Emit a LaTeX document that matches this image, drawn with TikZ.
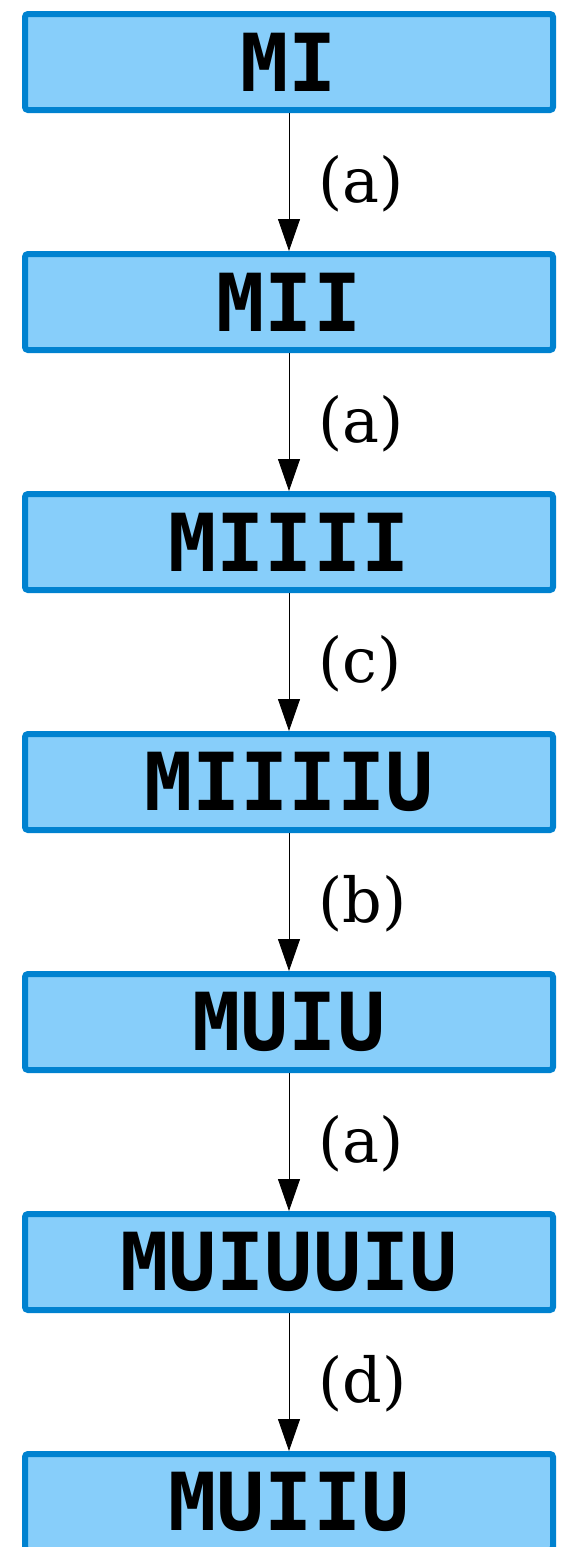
\documentclass[tikz,border=0pt]{standalone}
\usepackage{fontspec}
\usetikzlibrary{arrows.meta}
\newfontfamily\boxfont{DejaVu Sans Mono}
\newfontfamily\labfont{DejaVu Serif}
\definecolor{boxfill}{RGB}{135,206,250}
\definecolor{boxline}{RGB}{0,130,208}
\begin{document}
\begin{tikzpicture}[x=1pt,y=-1pt,
  mbox/.style={rectangle, draw=boxline, fill=boxfill, line width=6pt, rounded corners=3pt,
    minimum width=528pt, minimum height=96pt, inner sep=0pt,
    font=\boxfont\bfseries\fontsize{80}{88}\selectfont, text=black},
  link/.style={draw=black, line width=0.9pt, -{Triangle[length=32pt,width=22pt]}},
  lab/.style={inner sep=0pt, anchor=west, xshift=29pt, yshift=-2pt, font=\labfont\fontsize{62}{70}\selectfont}]
\useasboundingbox (0,0) rectangle (562,1547);
\clip (0,0) rectangle (562,1547);
\node[mbox] (n1) at (289,62) {MI};
\node[mbox] (n2) at (289,302) {MII};
\node[mbox] (n3) at (289,542) {MIIII};
\node[mbox] (n4) at (289,782) {MIIIIU};
\node[mbox] (n5) at (289,1022) {MUIU};
\node[mbox] (n6) at (289,1262) {MUIUUIU};
\node[mbox] (n7) at (289,1502) {MUIIU};
\draw[link] (n1) -- node[lab] (l1) {(a)} (n2);
\draw[link] (n2) -- node[lab] (l2) {(a)} (n3);
\draw[link] (n3) -- node[lab] (l3) {(c)} (n4);
\draw[link] (n4) -- node[lab] (l4) {(b)} (n5);
\draw[link] (n5) -- node[lab] (l5) {(a)} (n6);
\draw[link] (n6) -- node[lab] (l6) {(d)} (n7);
\end{tikzpicture}
\end{document}
